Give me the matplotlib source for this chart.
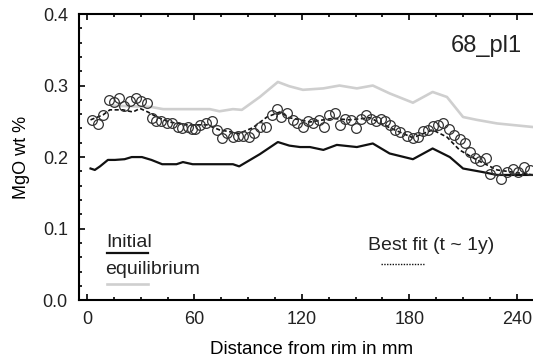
import matplotlib.pyplot as plt
from matplotlib.ticker import MultipleLocator

plt.rcParams['font.family'] = ['Liberation Sans', 'DejaVu Sans']
plt.rcParams['text.color'] = '#222222'
plt.rcParams['xtick.labelcolor'] = '#222222'
plt.rcParams['ytick.labelcolor'] = '#222222'

# measured profile (circles)
dist_obs = [3.0, 6.3, 9.1, 12.3, 15.2, 18.0, 20.8, 24.0, 27.2, 30.1, 33.3, 36.1, 38.8, 41.3,
            44.5, 47.6, 50.6, 53.2, 56.2, 58.8, 60.3, 63.0, 66.4, 69.6, 72.4, 75.5, 78.3,
            81.3, 84.5, 87.2, 90.6, 93.4, 96.6, 99.9, 103.1, 105.9, 108.6, 111.8, 114.8,
            117.4, 120.7, 123.5, 126.3, 129.5, 132.4, 135.2, 138.4, 141.2, 144.0, 147.4,
            150.1, 152.9, 155.7, 158.5, 161.3, 164.1, 166.3, 169.1, 171.9, 174.7, 178.8,
            182.1, 184.9, 187.4, 190.5, 193.3, 196.1, 198.9, 202.2, 205.0, 208.2, 211.0,
            213.8, 216.6, 219.3, 222.7, 225.2, 228.6, 231.4, 234.6, 238.0, 240.7, 244.0,
            247.3]
mgo_obs = [0.252, 0.246, 0.259, 0.280, 0.277, 0.282, 0.271, 0.279, 0.282, 0.279, 0.276,
           0.254, 0.250, 0.251, 0.248, 0.247, 0.242, 0.241, 0.242, 0.239, 0.239, 0.245,
           0.247, 0.250, 0.238, 0.226, 0.233, 0.228, 0.229, 0.229, 0.228, 0.233, 0.242,
           0.242, 0.259, 0.267, 0.256, 0.261, 0.252, 0.247, 0.242, 0.250, 0.247, 0.252,
           0.242, 0.259, 0.261, 0.245, 0.253, 0.252, 0.240, 0.253, 0.259, 0.253, 0.250,
           0.253, 0.250, 0.245, 0.238, 0.235, 0.229, 0.226, 0.228, 0.236, 0.238, 0.243,
           0.245, 0.247, 0.239, 0.231, 0.225, 0.219, 0.207, 0.198, 0.195, 0.198, 0.177,
           0.182, 0.170, 0.179, 0.184, 0.179, 0.186, 0.182]

# initial profile
dist_init = [2, 4.4, 7.3, 11.7, 15.6, 21, 25, 30.7, 36, 42, 50, 53.6, 59, 81.5, 85, 96.5,
             106.6, 113, 119, 124.5, 132, 139.5, 150.7, 159.6, 169, 182, 193, 202.6, 210,
             221, 229, 249]
mgo_init = [0.184, 0.182, 0.187, 0.196, 0.196, 0.197, 0.200, 0.200, 0.196, 0.190, 0.190,
            0.193, 0.190, 0.190, 0.187, 0.204, 0.221, 0.216, 0.214, 0.214, 0.210, 0.217,
            0.214, 0.219, 0.205, 0.197, 0.212, 0.200, 0.184, 0.179, 0.175, 0.175]

# equilibrium profile
dist_eq = [14, 25, 36, 42.5, 55.8, 68.6, 74, 81.5, 86.5, 96.5, 106.6, 113, 120.6, 132, 141,
           150.7, 159.6, 169, 182, 193, 201, 210, 217.7, 229, 249]
mgo_eq = [0.272, 0.271, 0.270, 0.267, 0.267, 0.267, 0.264, 0.267, 0.266, 0.284, 0.305,
          0.299, 0.294, 0.296, 0.300, 0.296, 0.300, 0.289, 0.276, 0.291, 0.284, 0.256,
          0.252, 0.247, 0.242]

# best fit (t ~ 1y)
dist_fit = [2, 9, 12.8, 20, 25.7, 29.6, 34, 39, 46, 55.8, 67, 74, 85, 92.6, 100.5, 107.7,
            113, 119, 124.5, 137, 146.8, 158, 169, 182, 193, 201, 208, 217.7, 229, 249]
mgo_fit = [0.252, 0.259, 0.266, 0.266, 0.263, 0.268, 0.263, 0.256, 0.249, 0.245, 0.245,
           0.238, 0.233, 0.241, 0.256, 0.263, 0.255, 0.252, 0.249, 0.254, 0.252, 0.255,
           0.241, 0.227, 0.238, 0.228, 0.210, 0.196, 0.182, 0.175]

eq_grey = '#cfcfcf'

fig = plt.figure(figsize=(5.33, 3.59), dpi=100)
ax = fig.add_axes([0.148, 0.164, 0.872, 0.797])

ax.plot(dist_eq, mgo_eq, color=eq_grey, lw=1.9, zorder=1)
ax.plot(dist_init, mgo_init, color='#111111', lw=1.6, zorder=2)
ax.plot(dist_fit, mgo_fit, color='#111111', lw=1.2, ls=(0, (2.5, 1.5)), zorder=3)
ax.plot(dist_obs, mgo_obs, 'o', mfc='none', mec='#333333', ms=7, mew=0.9, zorder=4)

ax.set_xlim(-4.5, 255)
ax.set_ylim(0, 0.4)
ax.xaxis.set_major_locator(MultipleLocator(60))
ax.xaxis.set_minor_locator(MultipleLocator(15))
ax.yaxis.set_major_locator(MultipleLocator(0.1))
ax.yaxis.set_minor_locator(MultipleLocator(0.02))
ax.yaxis.set_major_formatter(plt.FormatStrFormatter('%.1f'))
ax.tick_params(which='both', direction='in', top=True, right=True, labelsize=13, width=1.2)
ax.tick_params(which='major', length=4, pad=8)
ax.tick_params(which='minor', length=2)
for s in ax.spines.values():
    s.set_linewidth(1.5)

ax.set_xlabel('Distance from rim in mm', fontsize=13.5, labelpad=9)
ax.set_ylabel('MgO wt %', fontsize=13, labelpad=9)

ax.text(243, 0.355, '68_pl1', fontsize=17, ha='right', va='center')

# hand-drawn legend
ax.text(11, 0.08, 'Initial', fontsize=14, va='center')
ax.plot([11, 34], [0.066, 0.066], color='#111111', lw=1.6)
ax.text(10, 0.043, 'equilibrium', fontsize=14, va='center')
ax.plot([11, 34], [0.022, 0.022], color=eq_grey, lw=1.9)
ax.text(157, 0.077, 'Best fit (t ~ 1y)', fontsize=14, va='center')
ax.plot([164, 188], [0.050, 0.050], color='#111111', lw=1.0, ls=(0, (1, 1)))

fig.savefig('out.png', dpi=100)
